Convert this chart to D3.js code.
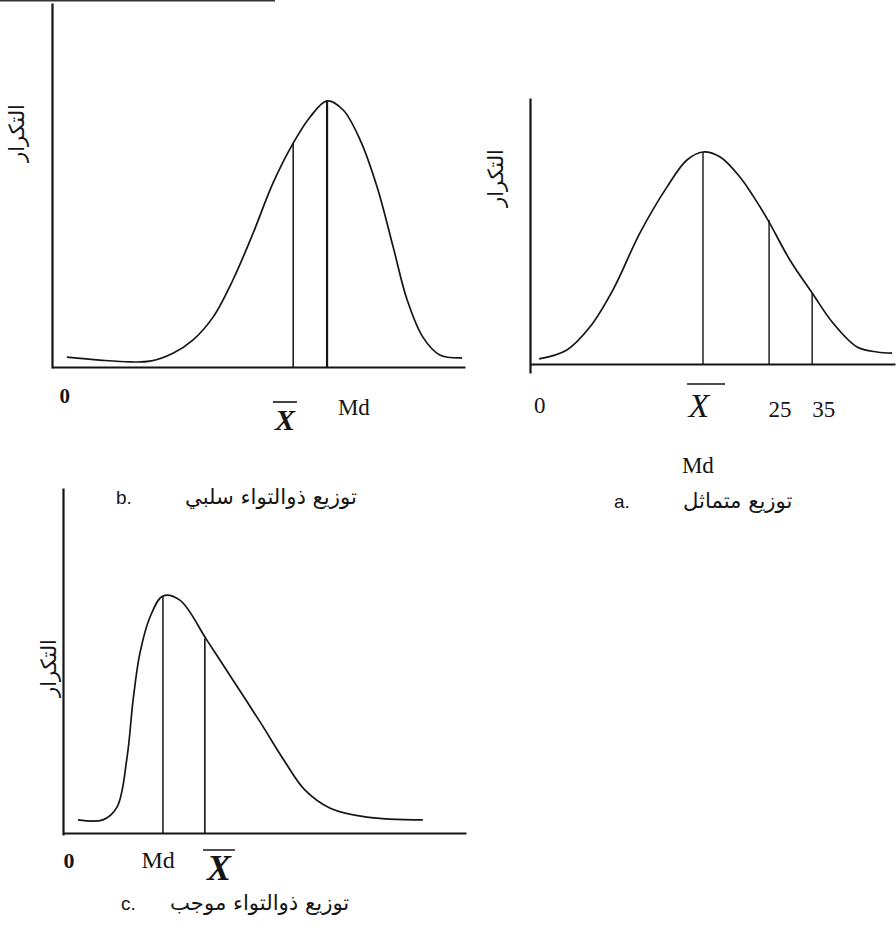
<!DOCTYPE html>
<html><head><meta charset="utf-8">
<script src="https://cdn.jsdelivr.net/npm/d3@7"></script>
<style>body{margin:0;background:#fff} svg{display:block}</style>
</head><body><svg id="c" width="896" height="938"></svg>
<script>
// ---------- DATA ----------
// Panel b: negatively skewed distribution (x and frequency in % of axis)
const bCurveX = [3.6, 11.6, 18.9, 23.7, 29.3, 34.1, 39.0, 43.8, 48.7, 53.5, 58.4, 62.5, 66.6, 70.5, 74.6, 78.7, 82.6, 86.0, 89.8, 93.9, 99.3];
const bCurveY = [2.7, 1.9, 1.4, 1.6, 3.8, 7.4, 13.7, 23.9, 36.8, 50.5, 61.5, 68.7, 73.1, 70.6, 62.4, 49.5, 33.0, 18.4, 8.2, 3.3, 2.5];
const bLineX = [58.4, 66.6];
const bLineY = [61.5, 73.1];
const bTickText = ["0", "X", "Md"];
const bTickX = [3.1, 56.4, 73.1];
const bTitle = "توزيع ذوالتواء سلبي";
const bLetter = "b.";

// Panel a: symmetric distribution
const aCurveX = [2.5, 10.1, 16.4, 22.7, 30.1, 37.5, 43.0, 47.4, 52.1, 57.5, 61.1, 65.2, 71.2, 77.3, 83.0, 89.6, 95.1, 99.2];
const aCurveY = [1.9, 5.3, 13.9, 27.8, 49.2, 66.5, 76.7, 79.7, 77.8, 70.3, 63.2, 54.1, 39.1, 26.7, 15.4, 6.4, 4.5, 4.1];
const aLineX = [47.4, 65.5, 77.3];
const aLineY = [79.7, 54.1, 26.7];
const aTickText = ["0", "X", "25", "35", "Md"];
const aTickX = [2.7, 46.3, 68.5, 80.5, 46.0];
const aTitle = "توزيع متماثل";
const aLetter = "a.";

// Panel c: positively skewed distribution
const cCurveX = [3.7, 9.9, 13.4, 15.9, 17.4, 19.1, 21.6, 24.8, 29.0, 35.7, 42.2, 48.9, 55.1, 60.0, 66.3, 75.4, 89.3];
const cCurveY = [3.8, 3.8, 7.5, 22.0, 38.6, 52.2, 62.6, 68.7, 67.5, 55.9, 44.3, 32.2, 20.6, 12.5, 7.2, 4.6, 3.8];
const cLineX = [24.8, 35.2];
const cLineY = [68.7, 56.4];
const cTickText = ["0", "Md", "X"];
const cTickX = [1.5, 23.6, 38.7];
const cTitle = "توزيع ذوالتواء موجب";
const cLetter = "c.";

const yLabel = "التكرار";

// ---------- DRAWING ----------
const svg = d3.select("#c");
const INK = "#151515";
const SERIF = "'Liberation Serif','Times New Roman',serif";
const SANS = "'Liberation Sans',Arial,sans-serif";
const ARAB = "'DejaVu Sans',sans-serif";

// faint scan border at top
svg.append("line").attr("x1", 0).attr("x2", 275).attr("y1", 0.7).attr("y2", 0.7)
  .attr("stroke", "#333").attr("stroke-width", 1.6);

function panel(cfg) {
  const x = d3.scaleLinear().domain([0, 100]).range([cfg.x0, cfg.x1]);
  const y = d3.scaleLinear().domain([0, 100]).range([cfg.y0, cfg.y1]);
  const g = svg.append("g");

  g.append("g").attr("transform", `translate(0,${y(0)})`)
    .call(d3.axisBottom(x).tickValues([]).tickSizeOuter(0));
  g.append("g").attr("transform", `translate(${x(0)},0)`)
    .call(d3.axisLeft(y.copy().domain([cfg.yExt, 100]).range([y(0) + cfg.extPx, cfg.y1])).tickValues([]).tickSizeOuter(0));
  g.selectAll(".domain").attr("stroke", INK).attr("stroke-width", 2.2);

  const line = d3.line()
    .x((d, i) => x(cfg.cx[i]))
    .y((d, i) => y(cfg.cy[i]))
    .curve(d3.curveCatmullRom.alpha(0.5));
  g.append("path").datum(cfg.cx).attr("d", line)
    .attr("fill", "none").attr("stroke", INK).attr("stroke-width", 1.7)
    .attr("stroke-linejoin", "round");

  g.selectAll(".vl").data(cfg.lx).join("line").attr("class", "vl")
    .attr("x1", d => x(d)).attr("x2", d => x(d))
    .attr("y1", y(0)).attr("y2", (d, i) => y(cfg.ly[i]))
    .attr("stroke", INK).attr("stroke-width", (d, i) => cfg.lw[i]);

  cfg.tt.forEach((t, i) => {
    const st = cfg.tickStyle[i];
    g.append("text").attr("x", x(cfg.tx[i])).attr("y", st.base)
      .attr("text-anchor", "middle").attr("font-family", SERIF)
      .attr("font-size", st.size).attr("font-weight", st.bold ? "bold" : "normal")
      .attr("font-style", st.italic ? "italic" : "normal").attr("fill", INK).text(t);
    if (st.over) {
      g.append("line").attr("x1", x(cfg.tx[i]) + st.over[0]).attr("x2", x(cfg.tx[i]) + st.over[1])
        .attr("y1", st.over[2]).attr("y2", st.over[2])
        .attr("stroke", INK).attr("stroke-width", 1.6);
    }
  });

  // rotated y label
  const yl = g.append("text")
    .attr("transform", `translate(${cfg.ylx},${cfg.yly}) rotate(-90)`)
    .attr("text-anchor", "middle").attr("dominant-baseline", "middle")
    .attr("font-family", ARAB).attr("font-size", 14).attr("fill", INK).text(yLabel);
  const len = yl.node().getComputedTextLength();
  yl.attr("font-size", 14 * 58 / len);

  // title
  g.append("text").attr("x", cfg.letterX).attr("y", cfg.titleY)
    .attr("font-family", SANS).attr("font-size", 19).attr("fill", INK).text(cfg.letter);
  const tt = g.append("text").attr("y", cfg.titleY)
    .attr("font-family", ARAB).attr("font-size", 15).attr("fill", INK).text(cfg.title);
  return tt;
}

const tB = panel({
  x0: 52, x1: 465, y0: 367, y1: 3, yExt: -0.3, extPx: 1,
  cx: bCurveX, cy: bCurveY, lx: bLineX, ly: bLineY, lw: [1.5, 2.2],
  tt: bTickText, tx: bTickX,
  tickStyle: [
    {base: 403, size: 21, bold: true},
    {base: 430, size: 30, bold: true, italic: true, over: [-12, 12, 402]},
    {base: 415, size: 23}
  ],
  ylx: 18, yly: 133,
  letter: bLetter, letterX: 116, titleY: 504, title: bTitle
});
const tA = panel({
  x0: 530, x1: 895, y0: 364, y1: 98, yExt: -3.4, extPx: 9,
  cx: aCurveX, cy: aCurveY, lx: aLineX, ly: aLineY, lw: [1.4, 1.4, 1.4],
  tt: aTickText, tx: aTickX,
  tickStyle: [
    {base: 413, size: 23},
    {base: 417, size: 34, italic: true, over: [-12, 26, 384]},
    {base: 417, size: 23},
    {base: 417, size: 23},
    {base: 473, size: 23}
  ],
  ylx: 497, yly: 178,
  letter: aLetter, letterX: 614, titleY: 508, title: aTitle
});
const tC = panel({
  x0: 63, x1: 466, y0: 833, y1: 488, yExt: -0.6, extPx: 2,
  cx: cCurveX, cy: cCurveY, lx: cLineX, ly: cLineY, lw: [1.5, 1.6],
  tt: cTickText, tx: cTickX,
  tickStyle: [
    {base: 868, size: 22, bold: true},
    {base: 868, size: 24},
    {base: 880, size: 36, bold: true, italic: true, over: [-16, 16, 850]}
  ],
  ylx: 50, yly: 668,
  letter: cLetter, letterX: 121, titleY: 910, title: cTitle
});

// fit Arabic titles: panel b title spans 185..357 px
const wB = tB.node().getComputedTextLength();
const fs = 15 * 172 / wB;
[[tB, 185], [tA, 683], [tC, 170]].forEach(([t, left]) => {
  t.attr("font-size", fs).attr("x", left);
});
</script>
</body></html>
